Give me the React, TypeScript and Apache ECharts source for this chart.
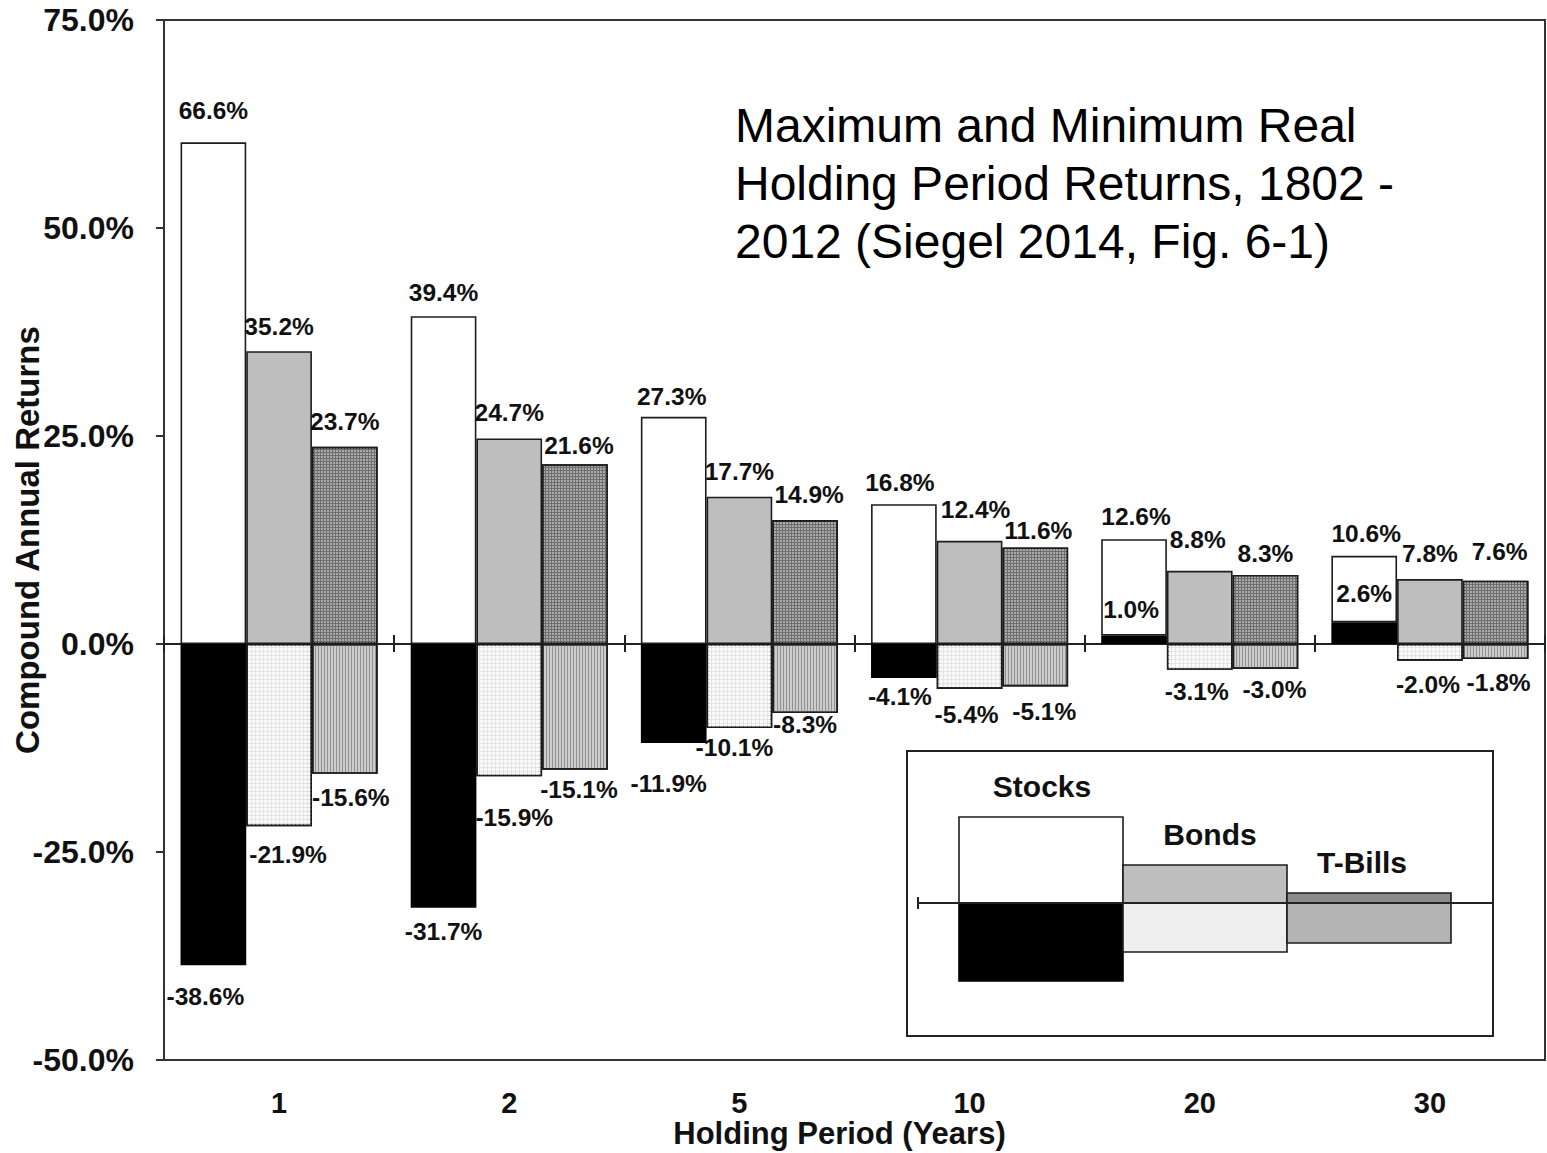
import React, { useEffect, useRef } from "react";
import * as echarts from "echarts";

// ---- data ----
const categories = ["1", "2", "5", "10", "20", "30"];
const yTicks = [-50, -25, 0, 25, 50, 75];
// stocks maximum: bar heights as drawn, and the values printed above them
const stocksMax = [60.3, 39.4, 27.3, 16.8, 12.6, 10.6];
const stocksMaxPrinted = [66.6, 39.4, 27.3, 16.8, 12.6, 10.6];
const stocksMin = [-38.6, -31.7, -11.9, -4.1, 1.0, 2.6];
const bondsMax = [35.2, 24.7, 17.7, 12.4, 8.8, 7.8];
const bondsMin = [-21.9, -15.9, -10.1, -5.4, -3.1, -2.0];
const billsMax = [23.7, 21.6, 14.9, 11.6, 8.3, 7.6];
const billsMin = [-15.6, -15.1, -8.3, -5.1, -3.0, -1.8];
const legendNames = ["Stocks", "Bonds", "T-Bills"];
const titleText = "Maximum and Minimum Real\nHolding Period Returns, 1802 -\n2012 (Siegel 2014, Fig. 6-1)";

const FONT = '"Liberation Sans", Arial, Helvetica, sans-serif';
const INK = "#111";
const BORDER = "#1c1c1c";
const BAR_W = 65.7;

// label nudges (styling only): [dx, dy] per series / category index
const labelNudge: Record<string, Record<number, [number, number]>> = {
  sMin: { 0: [-8, 12], 1: [0, 4], 2: [-5, 21], 3: [-4, -1], 4: [-3, -7], 5: [0, -9] },
  sMax: { 0: [0, -12], 1: [0, -4], 2: [-2, -1], 3: [-4, -2], 4: [2, -3], 5: [2, -3] },
  bMax: { 0: [0, -5], 1: [0, -6], 2: [0, -6], 3: [6, -12], 4: [-2, -12], 5: [0, -6] },
  bMin: { 0: [9, 9], 1: [5, 22], 2: [-5, 0], 3: [-3, 6], 4: [-3, 2], 5: [-2, 4] },
  tMax: { 0: [0, -6], 1: [4, 1], 2: [4, -6], 3: [3, 3], 4: [0, -2], 5: [4, -10] },
  tMin: { 0: [6, 4], 1: [4, 0], 2: [0, -8], 3: [9, 6], 4: [9, 1], 5: [3, 4] },
};

const fmt = (v: number) => v.toFixed(1) + "%";

const styles = {
  stocksMax: { color: "#ffffff", borderColor: BORDER, borderWidth: 1.6 },
  stocksMin: { color: "#000000", borderColor: "#000", borderWidth: 1.6 },
  bondsMax: { color: "#bebebe", borderColor: BORDER, borderWidth: 1.6 },
  bondsMin: {
    color: "#e4e4e4",
    borderColor: BORDER,
    borderWidth: 1.6,
    decal: { symbol: "rect", symbolSize: 1, dashArrayX: [[3, 1]], dashArrayY: [3, 1], color: "#f9f9f9", rotation: 0 },
  },
  billsMax: {
    color: "#6e6e6e",
    borderColor: BORDER,
    borderWidth: 1.6,
    decal: { symbol: "rect", symbolSize: 1, dashArrayX: [[2, 1]], dashArrayY: [2, 1], color: "#a9a9a9", rotation: 0 },
  },
  billsMin: {
    color: "#cccccc",
    borderColor: BORDER,
    borderWidth: 1.6,
    decal: { symbol: "rect", symbolSize: 1, dashArrayX: [[1, 2]], dashArrayY: [4, 0], color: "#929292", rotation: 0 },
  },
};

const labelStyle = {
  show: true,
  fontFamily: FONT,
  fontWeight: "bold" as const,
  fontSize: 24.5,
  color: INK,
  distance: 7,
};

function makeSeries(
  name: string,
  key: string,
  stack: string,
  values: number[],
  printed: number[],
  itemStyle: any,
  z: number
) {
  return {
    name,
    type: "bar",
    stack,
    barWidth: BAR_W,
    barGap: "0%",
    z,
    itemStyle,
    emphasis: { disabled: true },
    data: values.map((v, i) => ({
      value: v,
      label: {
        ...labelStyle,
        position: printed[i] >= 0 ? "top" : "bottom",
        offset: (labelNudge[key] && labelNudge[key][i]) || [0, 0],
        formatter: () => fmt(printed[i]),
      },
    })),
  };
}

export default function App() {
  const ref = useRef<HTMLDivElement>(null);

  useEffect(() => {
    if (!ref.current) return;
    const chart = echarts.init(ref.current, null, { renderer: "svg" });

    // the stocks minimum is drawn first; when it is positive the maximum bar sits on it
    const stocksMaxStacked = stocksMax.map((v, i) => v - (stocksMin[i] > 0 ? stocksMin[i] : 0));

    const series = [
      makeSeries("Stocks min", "sMin", "s", stocksMin, stocksMin, styles.stocksMin, 3),
      makeSeries("Stocks max", "sMax", "s", stocksMaxStacked, stocksMaxPrinted, styles.stocksMax, 2),
      makeSeries("Bonds max", "bMax", "b", bondsMax, bondsMax, styles.bondsMax, 2),
      makeSeries("Bonds min", "bMin", "b", bondsMin, bondsMin, styles.bondsMin, 2),
      makeSeries("T-Bills max", "tMax", "t", billsMax, billsMax, styles.billsMax, 2),
      makeSeries("T-Bills min", "tMin", "t", billsMin, billsMin, styles.billsMin, 2),
    ];

    // legend drawn as a small diagram
    const lx = 907, ly = 751, lw = 586, lh = 285;
    const base = 903;
    const cols = [959, 1123, 1287, 1451];
    const legendFont = `bold 30px ${FONT}`;
    const legendGraphic: any[] = [
      { type: "rect", shape: { x: lx, y: ly, width: lw, height: lh }, style: { fill: "#fff", stroke: "#222", lineWidth: 2 }, z: 10 },
      { type: "rect", shape: { x: cols[0], y: 817, width: cols[1] - cols[0], height: base - 817 }, style: { fill: "#fff", stroke: BORDER, lineWidth: 1.6 }, z: 11 },
      { type: "rect", shape: { x: cols[0], y: base, width: cols[1] - cols[0], height: 981 - base }, style: { fill: "#000", stroke: "#000", lineWidth: 1.6 }, z: 11 },
      { type: "rect", shape: { x: cols[1], y: 865, width: cols[2] - cols[1], height: base - 865 }, style: { fill: "#bebebe", stroke: BORDER, lineWidth: 1.6 }, z: 11 },
      { type: "rect", shape: { x: cols[1], y: base, width: cols[2] - cols[1], height: 952 - base }, style: { fill: "#efefef", stroke: BORDER, lineWidth: 1.6 }, z: 11 },
      { type: "rect", shape: { x: cols[2], y: 893, width: cols[3] - cols[2], height: base - 893 }, style: { fill: "#8c8c8c", stroke: BORDER, lineWidth: 1.6 }, z: 11 },
      { type: "rect", shape: { x: cols[2], y: base, width: cols[3] - cols[2], height: 943 - base }, style: { fill: "#b4b4b4", stroke: BORDER, lineWidth: 1.6 }, z: 11 },
      { type: "line", shape: { x1: 918, y1: base, x2: lx + lw, y2: base }, style: { stroke: "#222", lineWidth: 2 }, z: 12 },
      { type: "line", shape: { x1: 918, y1: base - 6, x2: 918, y2: base + 6 }, style: { stroke: "#222", lineWidth: 2 }, z: 12 },
      { type: "text", x: 1042, y: 786, style: { text: legendNames[0], font: legendFont, fill: INK, align: "center", verticalAlign: "middle" }, z: 12 },
      { type: "text", x: 1210, y: 834, style: { text: legendNames[1], font: legendFont, fill: INK, align: "center", verticalAlign: "middle" }, z: 12 },
      { type: "text", x: 1362, y: 862, style: { text: legendNames[2], font: legendFont, fill: INK, align: "center", verticalAlign: "middle" }, z: 12 },
    ];

    const option: any = {
      animation: false,
      backgroundColor: "#ffffff",
      textStyle: { fontFamily: FONT },
      grid: {
        left: 164,
        right: 2,
        top: 20,
        bottom: 93,
        outerBoundsMode: "none",
        containLabel: false,
        show: true,
        borderColor: "#333",
        borderWidth: 2,
        backgroundColor: "transparent",
      },
      xAxis: [
        {
          type: "category",
          data: categories,
          position: "bottom",
          axisLine: { show: false, onZero: false },
          axisTick: { show: false },
          axisLabel: { fontFamily: FONT, fontWeight: "bold", fontSize: 29, lineHeight: 29, color: INK, margin: 28 },
          name: "Holding Period (Years)",
          nameLocation: "middle",
          nameGap: 58,
          nameMoveOverlap: false,
          nameTextStyle: { fontFamily: FONT, fontWeight: "bold", fontSize: 31, lineHeight: 31, color: INK, padding: [0, 30, 0, 0] },
        },
        {
          type: "category",
          data: categories,
          axisLine: { show: true, onZero: true, onZeroAxisIndex: 0, lineStyle: { color: "#222", width: 2 } },
          axisTick: { show: true, inside: true, length: 8, lineStyle: { color: "#222", width: 2 } },
          axisLabel: { show: false },
        },
        {
          type: "category",
          data: categories,
          axisLine: { show: true, onZero: true, onZeroAxisIndex: 0, lineStyle: { color: "#222", width: 2 } },
          axisTick: { show: true, inside: false, length: 9, lineStyle: { color: "#222", width: 2 } },
          axisLabel: { show: false },
        },
      ],
      yAxis: {
        type: "value",
        min: yTicks[0],
        max: yTicks[yTicks.length - 1],
        interval: 25,
        axisLine: { show: true, lineStyle: { color: "#333", width: 2 } },
        axisTick: { show: true, length: 8, lineStyle: { color: "#333", width: 2 } },
        splitLine: { show: false },
        axisLabel: {
          formatter: (v: number) => fmt(v),
          fontFamily: FONT,
          fontWeight: "bold",
          fontSize: 32,
          color: INK,
          margin: 30,
        },
        name: "Compound Annual Returns",
        nameLocation: "middle",
        nameRotate: 90,
        nameGap: 120,
        nameMoveOverlap: false,
        nameTextStyle: { fontFamily: FONT, fontWeight: "bold", fontSize: 33, color: INK },
      },
      series,
      graphic: [
        {
          type: "text",
          left: 735,
          top: 96,
          style: { text: titleText, font: `48px ${FONT}`, fill: "#000", lineHeight: 58 },
          z: 20,
        },
        ...legendGraphic,
      ],
    };

    chart.setOption(option);
    return () => chart.dispose();
  }, []);

  return (
    <div
      ref={ref}
      style={{ position: "fixed", left: 0, top: 0, width: 1547, height: 1153, background: "#fff" }}
    />
  );
}
